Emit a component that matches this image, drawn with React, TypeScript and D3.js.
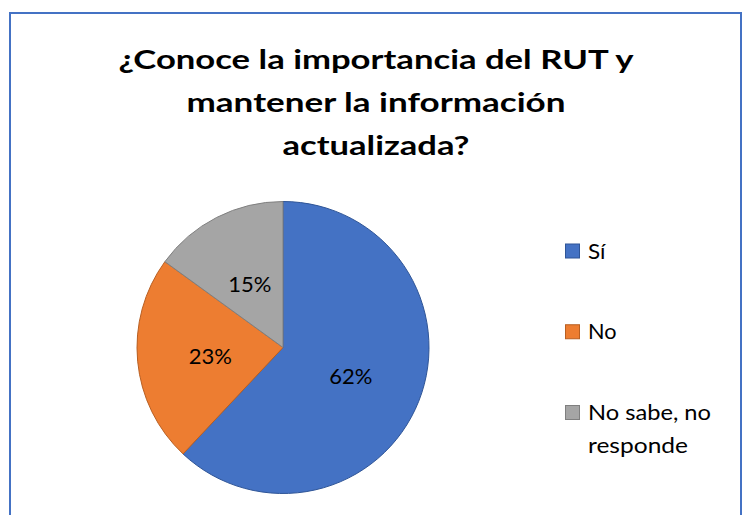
import React from "react";
import * as d3 from "d3";

const titleLines = ["¿Conoce la importancia del RUT y", "mantener la información", "actualizada?"];
const categories = ["Sí", "No", "No sabe, no responde"];
const legendLines = [["Sí"], ["No"], ["No sabe, no", "responde"]];
const values = [62, 23, 15];
const fills = ["#4472C4", "#ED7D31", "#A5A5A5"];
const strokes = ["#2F5597", "#B85F22", "#7F7F7F"];

// rendered widths of the text lines in the reference (layout, not data)
const titleWidths = [515, 379, 187];
const legendWidths = [[17.5], [28.5], [123, 100]];

const W = 749;
const H = 515;
const cx = 283;
const cy = 347.5;
const R = 146;
const FONT = "Lato, 'Liberation Sans', sans-serif";

export default function App() {
  const pie = d3.pie<number>().sort(null).value((d) => d)(values);
  const arc = d3.arc<d3.PieArcDatum<number>>().innerRadius(0).outerRadius(R);
  const total = d3.sum(values);
  const legendY = d3.scalePoint<string>().domain(categories).range([258.5, 420]);

  return (
    <svg
      width={W}
      height={H}
      style={{ position: "absolute", left: 0, top: 0, background: "#fff" }}
      fontFamily={FONT}
    >
      <rect x={0} y={0} width={W} height={H} fill="#fff" />
      <rect x={10} y={13} width={731} height={530} fill="#fff" stroke="#4472C4" strokeWidth={2} />
      {titleLines.map((t, i) => (
        <text
          key={i}
          x={376}
          y={69 + i * 43}
          textAnchor="middle"
          fontWeight="bold"
          fontSize={26.5}
          fill="#000"
          textLength={titleWidths[i]}
          lengthAdjust="spacingAndGlyphs"
        >
          {t}
        </text>
      ))}
      <g transform={`translate(${cx},${cy})`}>
        {pie.map((p, i) => (
          <path key={i} d={arc(p) || ""} fill={fills[i]} stroke={strokes[i]} strokeWidth={1} />
        ))}
        {pie.map((p, i) => {
          const [x, y] = arc.centroid(p);
          return (
            <text key={i} x={x} y={y + 10} textAnchor="middle" fontSize={22} fill="#000">
              {`${Math.round((p.value / total) * 100)}%`}
            </text>
          );
        })}
      </g>
      {categories.map((c, i) => {
        const by = legendY(c) as number;
        return (
          <g key={c}>
            <rect x={565.5} y={by - 14.5} width={14} height={14} fill={fills[i]} stroke={strokes[i]} strokeWidth={1} />
            {legendLines[i].map((l, j) => (
              <text
                key={j}
                x={588}
                y={by + j * 33}
                fontSize={22}
                fill="#000"
                textLength={legendWidths[i][j]}
                lengthAdjust="spacingAndGlyphs"
              >
                {l}
              </text>
            ))}
          </g>
        );
      })}
    </svg>
  );
}
